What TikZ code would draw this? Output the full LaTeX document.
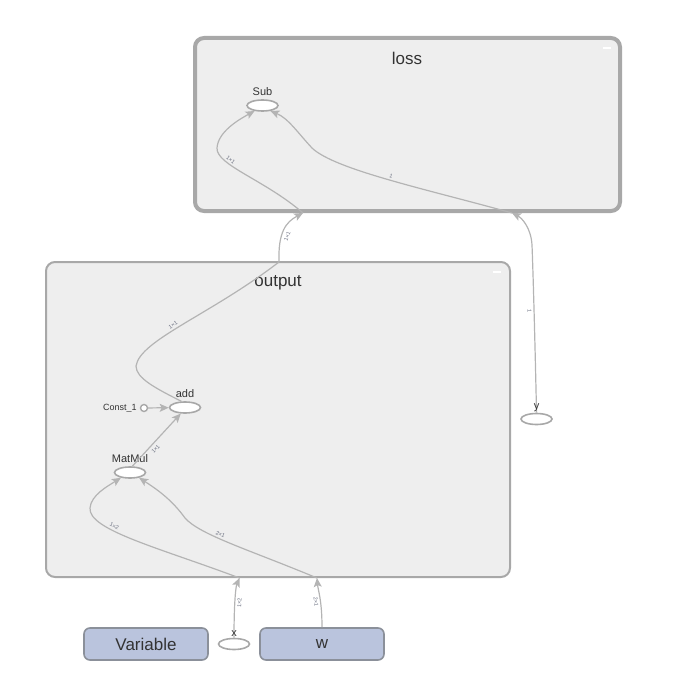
\documentclass[tikz,border=0pt]{standalone}
\usepackage{fontspec}
\setmainfont{Liberation Sans}
\usetikzlibrary{arrows.meta, positioning, shapes.geometric}
\definecolor{tbfill}{HTML}{EEEEEE}
\definecolor{tbborder}{HTML}{A8A8A8}
\definecolor{tbedge}{HTML}{B4B4B4}
\definecolor{tbvar}{HTML}{BAC4DD}
\definecolor{tbvarline}{HTML}{8B909A}
\definecolor{tbtext}{HTML}{333333}
\definecolor{tbdim}{HTML}{6A6F80}

\begin{document}
\begin{tikzpicture}[x=1pt, y=-1pt,
        group/.style={draw=tbborder, fill=tbfill, rounded corners=9pt, inner sep=0pt},
        op/.style={ellipse, draw=tbborder, fill=white, line width=1.6pt,
                   minimum width=31pt, minimum height=11pt, inner sep=0pt},
        var/.style={draw=tbvarline, fill=tbvar, rounded corners=6pt, line width=1.6pt,
                    minimum width=124pt, minimum height=32pt,
                    font=\fontsize{17}{17}\selectfont, text=tbtext},
        title/.style={font=\fontsize{17}{17}\selectfont, text=tbtext},
        lbl/.style={font=\fontsize{11}{11}\selectfont, text=tbtext, inner sep=1pt},
        minus/.style={fill=white, minimum width=8pt, minimum height=1.8pt, inner sep=0pt},
        edge/.style={tbedge, line width=1.2pt},
        arr/.style={edge, -{Stealth[length=9pt, width=8pt, inset=2pt]}},
        dim/.style={font=\fontsize{5.5}{5.5}\selectfont, text=tbdim, sloped, inner sep=2pt}
      ]
        \useasboundingbox (0,0) rectangle (695,695);

        \node[group, line width=4pt, minimum width=425pt, minimum height=173pt] (loss) at (407.5,124.5) {};
        \node[group, line width=2pt, minimum width=464pt, minimum height=315pt] (output) at (278,419.5) {};
        \node[title] (losstitle) at (407,58) {loss};
        \node[title] (outtitle) at (278,283) {output};
        \node[minus] (lossmin) at (607,48) {};
        \node[minus] (outmin) at (497,272) {};

        \node[op] (sub) at (262.5,105.5) {};
        \node[lbl, above=2pt of sub] (sublbl) {Sub};
        \node[op] (add) at (185,407.5) {};
        \node[lbl, above=2pt of add] (addlbl) {add};
        \node[op] (mm) at (130,472.5) {};
        \node[lbl, above=2pt of mm] (mmlbl) {MatMul};
        \node[circle, draw=tbborder, fill=white, line width=1.4pt, minimum size=7pt, inner sep=0pt] (c1) at (144,408) {};
        \node[lbl, font=\fontsize{9}{9}\selectfont, left=2pt of c1] (c1lbl) {Const\_1};
        \node[op] (y) at (536.5,419) {};
        \node[op] (x) at (234,644) {};
        \node[var] (variable) at (146,644) {Variable};
        \node[var] (w) at (322,644) {w};

        \coordinate (xin) at (239.5,578);
        \coordinate (win) at (317,578);
        \coordinate (outtop) at (279,262);
        \coordinate (losssub) at (303,213);
        \coordinate (lossy) at (512,213);

        \draw[arr] (x.north) .. controls (234,600) and (236,586) .. node[dim, pos=0.4, below] {1×2} (xin);
        \draw[arr] (w.north) .. controls (322,600) and (318,590) .. node[dim, pos=0.4, below] {2×1} (win);
        \draw[arr] (xin) .. controls (160,548) and (88,530) .. node[dim, pos=0.65, above] {1×2} (90,508)
                   .. controls (91,495) and (108,486) .. (mm.-150);
        \draw[arr] (win) .. controls (250,550) and (200,535) .. node[dim, pos=0.6, above] {2×1} (185,518)
                   .. controls (172,500) and (158,490) .. (mm.-30);
        \draw[arr] (mm.70) -- node[dim, pos=0.4, below=1pt] {1×1} (add.-125);
        \draw[arr] (c1) -- (add);
        \draw[edge] (add.120) .. controls (155,388) and (136,378) .. (136,366)
                    .. controls (140,340) and (210,315) .. node[dim, pos=0.45, above] {1×1} (outtop);
        \draw[arr] (outtop) .. controls (278,232) and (286,222) .. node[dim, pos=0.4, below=1pt] {1×1} (losssub);
        \draw[arr] (losssub) .. controls (265,180) and (216,165) .. node[dim, pos=0.7, above] {1×1} (217,148)
                   .. controls (218,132) and (238,120) .. (sub.-145);
        \draw[arr] (y.north) .. controls (535,340) and (533,270) .. node[dim, pos=0.5, below] {1} (532,245)
                   .. controls (531,228) and (522,218) .. (lossy);
        \draw[arr] (lossy) .. controls (430,190) and (335,170) .. node[dim, pos=0.5, above] {1} (312,148)
                   .. controls (298,133) and (288,118) .. (sub.-35);

        \node[lbl, above=0pt of y] (ylbl) {y};
        \node[lbl, above=0pt of x] (xlbl) {x};
      \end{tikzpicture}
\end{document}
